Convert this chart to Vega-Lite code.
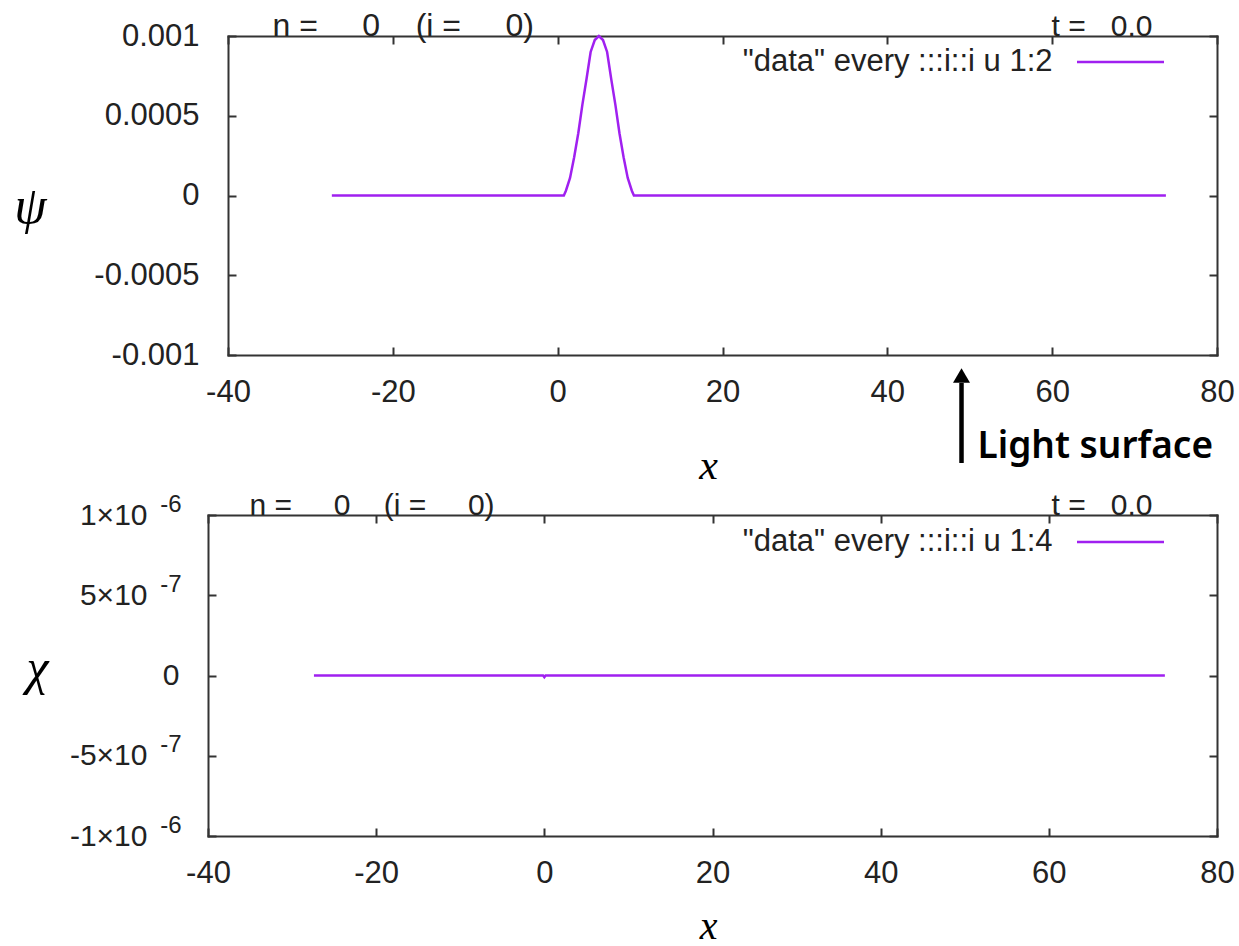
{
  "$schema": "https://vega.github.io/schema/vega-lite/v6.json",
  "background": "white",
  "padding": {"left": 13, "top": 9, "right": 0, "bottom": 0},
  "spacing": 4,
  "datasets": {
    "psi": [
      {"x": -27.4, "psi": 0, "series": "\"data\" every :::i::i u 1:2"},
      {"x": 0.75, "psi": 0, "series": "\"data\" every :::i::i u 1:2"},
      {"x": 1.0, "psi": 0.00003, "series": "\"data\" every :::i::i u 1:2"},
      {"x": 1.5, "psi": 0.00011, "series": "\"data\" every :::i::i u 1:2"},
      {"x": 2.0, "psi": 0.00024, "series": "\"data\" every :::i::i u 1:2"},
      {"x": 2.5, "psi": 0.00039, "series": "\"data\" every :::i::i u 1:2"},
      {"x": 3.0, "psi": 0.00057, "series": "\"data\" every :::i::i u 1:2"},
      {"x": 3.5, "psi": 0.00073, "series": "\"data\" every :::i::i u 1:2"},
      {"x": 4.0, "psi": 0.0009, "series": "\"data\" every :::i::i u 1:2"},
      {"x": 4.5, "psi": 0.000975, "series": "\"data\" every :::i::i u 1:2"},
      {"x": 5.0, "psi": 0.001, "series": "\"data\" every :::i::i u 1:2"},
      {"x": 5.5, "psi": 0.000975, "series": "\"data\" every :::i::i u 1:2"},
      {"x": 6.0, "psi": 0.0009, "series": "\"data\" every :::i::i u 1:2"},
      {"x": 6.5, "psi": 0.00073, "series": "\"data\" every :::i::i u 1:2"},
      {"x": 7.0, "psi": 0.00057, "series": "\"data\" every :::i::i u 1:2"},
      {"x": 7.5, "psi": 0.00039, "series": "\"data\" every :::i::i u 1:2"},
      {"x": 8.0, "psi": 0.00024, "series": "\"data\" every :::i::i u 1:2"},
      {"x": 8.5, "psi": 0.00011, "series": "\"data\" every :::i::i u 1:2"},
      {"x": 9.0, "psi": 0.00003, "series": "\"data\" every :::i::i u 1:2"},
      {"x": 9.25, "psi": 0, "series": "\"data\" every :::i::i u 1:2"},
      {"x": 73.8, "psi": 0, "series": "\"data\" every :::i::i u 1:2"}
    ],
    "chi": [
      {"x": -27.4, "chi": 0, "series": "\"data\" every :::i::i u 1:4"},
      {"x": -0.15, "chi": 0, "series": "\"data\" every :::i::i u 1:4"},
      {"x": 0.0, "chi": -1e-8, "series": "\"data\" every :::i::i u 1:4"},
      {"x": 0.15, "chi": 0, "series": "\"data\" every :::i::i u 1:4"},
      {"x": 73.8, "chi": 0, "series": "\"data\" every :::i::i u 1:4"}
    ],
    "mark": [
      {"xs": 49, "label": "Light surface"}
    ]
  },
  "config": {
    "view": {"stroke": null},
    "axis": {
      "domainColor": "#333", "domainWidth": 2, "domainCap": "square",
      "tickColor": "#333", "tickWidth": 2, "tickSize": -8,
      "labelFont": "Liberation Sans", "labelFontSize": 31, "labelColor": "#222",
      "labelFlush": false, "labelOverlap": false, "labelBound": false,
      "grid": false, "titleLimit": 3000, "titleFontWeight": "normal"
    }
  },
  "resolve": {"scale": {"color": "independent"}, "legend": {"color": "independent"}},
  "vconcat": [
    {
      "width": 1009,
      "height": 319,
      "resolve": {"axis": {"x": "independent", "y": "independent"}},
      "layer": [
        {
          "data": {"name": "psi"},
          "mark": {"type": "line", "strokeWidth": 2.5},
          "encoding": {
            "x": {"field": "x", "type": "quantitative",
              "scale": {"domain": [-40, 80], "range": [20, 1009], "nice": false, "zero": false},
              "axis": {"orient": "bottom", "values": [-40, -20, 0, 20, 40, 60, 80],
                "labelExpr": "datum.value < 0 ? '-' + abs(datum.value) : '' + datum.value",
                "labelBaseline": "middle", "labelPadding": 45,
                "title": "x", "titleX": 500, "titleY": 110, "titleAlign": "center", "titleBaseline": "middle",
                "titleFont": "Liberation Serif", "titleFontStyle": "italic", "titleFontSize": 42, "titleColor": "black"}},
            "y": {"field": "psi", "type": "quantitative",
              "scale": {"domain": [-0.001, 0.001], "nice": false, "zero": false},
              "axis": {"orient": "left", "offset": -20, "values": [-0.001, -0.0005, 0, 0.0005, 0.001],
                "labelExpr": "datum.value == 0 ? '0' : (datum.value < 0 ? '-' : '') + format(abs(datum.value), '~g')",
                "labelPadding": 37,
                "title": "ψ", "titleAngle": 0, "titleX": -198, "titleY": 170, "titleAlign": "center", "titleBaseline": "middle",
                "titleFont": "Liberation Serif", "titleFontStyle": "italic", "titleFontSize": 52, "titleColor": "black"}},
            "color": {"field": "series", "type": "nominal", "scale": {"range": ["#a020f0"]},
              "legend": {"orient": "none", "legendX": 867.5, "legendY": -19, "title": null,
                "symbolType": "stroke", "symbolSize": 7569, "symbolStrokeWidth": 2.5,
                "labelAlign": "right", "labelOffset": -113, "labelFontSize": 31, "labelFont": "Liberation Sans",
                "labelColor": "#222", "labelLimit": 2000, "padding": 0}}
          }
        },
        {
          "data": {"name": "psi"},
          "mark": {"type": "line", "opacity": 0},
          "encoding": {
            "x": {"field": "x", "type": "quantitative",
              "scale": {"domain": [-40, 80], "range": [20, 1009], "nice": false, "zero": false},
              "axis": {"orient": "top", "values": [-40, -20, 0, 20, 40, 60, 80], "labels": false,
                "title": "t =\u00a0\u00a0\u00a00.0", "titleX": 944, "titleY": -1, "titleAlign": "right", "titleBaseline": "alphabetic",
                "titleFont": "Liberation Sans", "titleFontSize": 30, "titleColor": "#222"}},
            "y": {"field": "psi", "type": "quantitative",
              "scale": {"domain": [-0.001, 0.001], "nice": false, "zero": false},
              "axis": {"orient": "right", "values": [-0.001, -0.0005, 0, 0.0005, 0.001], "labels": false,
                "title": "n =\u00a0\u00a0\u00a0\u00a0\u00a00\u00a0\u00a0\u00a0\u00a0(i =\u00a0\u00a0\u00a0\u00a0\u00a00)",
                "titleAngle": 0, "titleX": -945, "titleY": -1, "titleAlign": "left", "titleBaseline": "alphabetic",
                "titleFont": "Liberation Sans", "titleFontSize": 32, "titleColor": "#222"}}
          }
        },
        {
          "data": {"name": "mark"},
          "mark": {"type": "rule", "color": "black", "strokeWidth": 4.5},
          "encoding": {
            "x": {"field": "xs", "type": "quantitative",
              "scale": {"domain": [-40, 80], "range": [20, 1009], "nice": false, "zero": false}, "axis": null},
            "y": {"datum": -0.0011755, "type": "quantitative",
              "scale": {"domain": [-0.001, 0.001], "nice": false, "zero": false}, "axis": null},
            "y2": {"datum": -0.001677}
          }
        },
        {
          "data": {"name": "mark"},
          "mark": {"type": "point", "shape": "triangle-up", "filled": true, "color": "black", "size": 289, "opacity": 1},
          "encoding": {
            "x": {"field": "xs", "type": "quantitative",
              "scale": {"domain": [-40, 80], "range": [20, 1009], "nice": false, "zero": false}, "axis": null},
            "y": {"datum": -0.0011285, "type": "quantitative",
              "scale": {"domain": [-0.001, 0.001], "nice": false, "zero": false}, "axis": null}
          }
        },
        {
          "data": {"name": "mark"},
          "mark": {"type": "text", "align": "left", "baseline": "alphabetic", "dx": 16,
            "font": "Noto Sans", "fontSize": 37, "fontWeight": 600, "color": "black"},
          "encoding": {
            "x": {"field": "xs", "type": "quantitative",
              "scale": {"domain": [-40, 80], "range": [20, 1009], "nice": false, "zero": false}, "axis": null},
            "y": {"datum": -0.0016458, "type": "quantitative",
              "scale": {"domain": [-0.001, 0.001], "nice": false, "zero": false}, "axis": null},
            "text": {"field": "label"}
          }
        }
      ]
    },
    {
      "width": 1009,
      "height": 321,
      "data": {"name": "chi"},
      "resolve": {"axis": {"x": "independent", "y": "independent"}},
      "layer": [
        {
          "mark": {"type": "line", "strokeWidth": 2.5},
          "encoding": {
            "x": {"field": "x", "type": "quantitative",
              "scale": {"domain": [-40, 80], "nice": false, "zero": false},
              "axis": {"orient": "bottom", "values": [-40, -20, 0, 20, 40, 60, 80],
                "labelExpr": "datum.value < 0 ? '-' + abs(datum.value) : '' + datum.value",
                "labelBaseline": "middle", "labelPadding": 45,
                "title": "x", "titleX": 500, "titleY": 90, "titleAlign": "center", "titleBaseline": "middle",
                "titleFont": "Liberation Serif", "titleFontStyle": "italic", "titleFontSize": 40, "titleColor": "black"}},
            "y": {"field": "chi", "type": "quantitative",
              "scale": {"domain": [-1e-6, 1e-6], "nice": false, "zero": false},
              "axis": {"orient": "left", "values": [-1e-6, -5e-7, 0, 5e-7, 1e-6],
                "labelExpr": "datum.value > 7e-7 ? '1\u00d710' : datum.value > 2e-7 ? '5\u00d710' : datum.value > -2e-7 ? '0' : datum.value > -7e-7 ? '-5\u00d710' : '-1\u00d710'",
                "labelFontSize": 30,
                "labelPadding": {"condition": {"test": "abs(datum.value) < 1e-9", "value": 37}, "value": 69},
                "title": "χ", "titleAngle": 0, "titleX": -171, "titleY": 153, "titleAlign": "center", "titleBaseline": "middle",
                "titleFont": "Liberation Serif", "titleFontStyle": "italic", "titleFontSize": 50, "titleColor": "black"}},
            "color": {"field": "series", "type": "nominal", "scale": {"range": ["#a020f0"]},
              "legend": {"orient": "none", "legendX": 867.5, "legendY": -18, "title": null,
                "symbolType": "stroke", "symbolSize": 7569, "symbolStrokeWidth": 2.5,
                "labelAlign": "right", "labelOffset": -113, "labelFontSize": 31, "labelFont": "Liberation Sans",
                "labelColor": "#222", "labelLimit": 2000, "padding": 0}}
          }
        },
        {
          "mark": {"type": "line", "opacity": 0},
          "encoding": {
            "x": {"field": "x", "type": "quantitative",
              "scale": {"domain": [-40, 80], "nice": false, "zero": false},
              "axis": {"orient": "top", "values": [-40, -20, 0, 20, 40, 60, 80], "labels": false,
                "title": "t =\u00a0\u00a0\u00a00.0", "titleX": 944, "titleY": -1, "titleAlign": "right", "titleBaseline": "alphabetic",
                "titleFont": "Liberation Sans", "titleFontSize": 30, "titleColor": "#222"}},
            "y": {"field": "chi", "type": "quantitative",
              "scale": {"domain": [-1e-6, 1e-6], "nice": false, "zero": false},
              "axis": {"orient": "right", "values": [-1e-6, -5e-7, 0, 5e-7, 1e-6], "labels": false,
                "title": "n =\u00a0\u00a0\u00a0\u00a0\u00a00\u00a0\u00a0\u00a0\u00a0(i =\u00a0\u00a0\u00a0\u00a0\u00a00)",
                "titleAngle": 0, "titleX": -968, "titleY": -1, "titleAlign": "left", "titleBaseline": "alphabetic",
                "titleFont": "Liberation Sans", "titleFontSize": 30, "titleColor": "#222"}}
          }
        },
        {
          "mark": {"type": "line", "opacity": 0},
          "encoding": {
            "x": {"field": "x", "type": "quantitative",
              "scale": {"domain": [-40, 80], "nice": false, "zero": false}, "axis": null},
            "y": {"field": "chi", "type": "quantitative",
              "scale": {"domain": [-1e-6, 1e-6], "nice": false, "zero": false},
              "axis": {"orient": "left", "values": [-1e-6, -5e-7, 0, 5e-7, 1e-6],
                "labelExpr": "datum.value > 7e-7 ? '-6' : datum.value > 2e-7 ? '-7' : datum.value > -2e-7 ? '' : datum.value > -7e-7 ? '-7' : '-6'",
                "labelFontSize": 24, "labelPadding": 35, "labelOffset": -11,
                "domain": false, "tickOpacity": 0, "title": null}}
          }
        }
      ]
    }
  ]
}
